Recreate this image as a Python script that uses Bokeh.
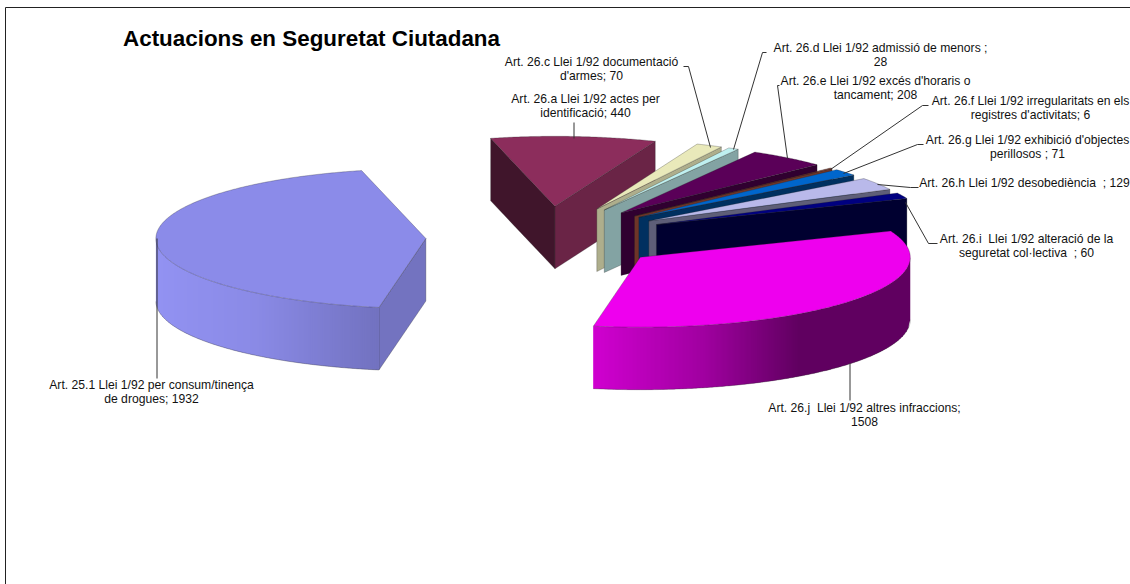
import math
from bokeh.plotting import figure
from bokeh.embed import file_html
from bokeh.resources import INLINE
from bokeh.core.properties import value

# --- data ---
values = [1932, 440, 70, 28, 208, 6, 71, 129, 60, 1508]
labels_line1 = ["Art. 25.1 Llei 1/92 per consum/tinença", "Art. 26.a Llei 1/92 actes per",
                "Art. 26.c Llei 1/92 documentació", "Art. 26.d Llei 1/92 admissió de menors ;",
                "Art. 26.e Llei 1/92 excés d'horaris o", "Art. 26.f Llei 1/92 irregularitats en els",
                "Art. 26.g Llei 1/92 exhibició d'objectes", "Art. 26.h Llei 1/92 desobediència\u00a0 ; 129",
                "Art. 26.i\u00a0 Llei 1/92 alteració de la", "Art. 26.j\u00a0 Llei 1/92 altres infraccions;"]
labels_line2 = ["de drogues; 1932", "identificació; 440", "d'armes; 70", "28", "tancament; 208",
                "registres d'activitats; 6", "perillosos ; 71", "", "seguretat col·lectiva\u00a0 ; 60", "1508"]
top_colors = ["#8b8be9", "#8c2d5c", "#e9e9ba", "#bff0f0", "#5a0058", "#8b3a2c", "#0066cc", "#b9b9ea", "#000080", "#ee00ee"]
wall_in = ["#7373c0", "#40152b", "#aeae8c", "#83a3a3", "#300030", "#6e3528", "#003060", "#5e5e78", "#000030", "#600060"]
wall_out = ["#7373c0", "#6a2446", "#aeae8c", "#83a3a3", "#300030", "#6e3528", "#003060", "#5e5e78", "#000030", "#600060"]
title = "Actuacions en Seguretat Ciutadana"

# --- layout ---
CX, CY, RX, RY, EXPLODE, H, START = 546, 237, 270, 70, 0.447, 62.5, 100.0
label_centers = [(151, 384), (585, 98), (591, 61), (880, 47), (875, 80), (1030, 100), (1027, 139), (1024, 182), (1026, 238), (864, 407)]
leaders = [[(156.5, 238), (156.5, 378)], [(573.5, 122), (573.5, 138)], [(683, 66), (688, 66), (710, 147)],
           [(766, 52), (762, 52), (733, 149)], [(779, 85), (777, 85), (787, 158)], [(928, 105), (922, 105), (830, 169)],
           [(923, 144), (917, 144), (843, 173)], [(918, 187), (910, 187), (877, 184)], [(937, 243), (928, 243), (905, 202)],
           [(849.5, 363), (849.5, 400)]]
gradients = {0: [(0, "#9292f2"), (0.45, "#8a8ae6"), (1, "#7272c0")], 9: [(0, "#d000d0"), (0.35, "#a000a0"), (0.65, "#600060"), (1, "#600060")]}

p = figure(width=1130, height=584, x_range=(0, 1130), y_range=(584, 0), output_backend="svg",
           toolbar_location=None, min_border=0, outline_line_color=None,
           x_axis_type=None, y_axis_type=None, background_fill_color="white", border_fill_color="white")
p.xgrid.visible = False
p.ygrid.visible = False

p.line([5, 5, 1130], [584, 7, 7], line_color="#222222", line_width=1)


def hex_mix(a, b, t):
    ca = [int(a[i:i + 2], 16) for i in (1, 3, 5)]
    cb = [int(b[i:i + 2], 16) for i in (1, 3, 5)]
    return "#%02x%02x%02x" % tuple(round(x + (y - x) * t) for x, y in zip(ca, cb))


def grad_color(stops, t):
    for (t0, c0), (t1, c1) in zip(stops, stops[1:]):
        if t <= t1:
            return hex_mix(c0, c1, (t - t0) / (t1 - t0))
    return stops[-1][1]


total = sum(values)
spans = []
a = START
for v in values:
    b = a + v / total * 360
    spans.append((a, b))
    a = b

order = list(range(1, len(values))) + [0]
for i in order:
    t0, t1 = spans[i]
    mid = math.radians((t0 + t1) / 2)
    ax = CX + EXPLODE * RX * math.cos(mid)
    ay = CY + EXPLODE * RY * math.sin(mid)
    pt = lambda d: (ax + RX * math.cos(math.radians(d)), ay + RY * math.sin(math.radians(d)))

    p0, p1 = pt(t0), pt(t1)
    if p0[0] < ax:
        p.patch([ax, p0[0], p0[0], ax], [ay, p0[1], p0[1] + H, ay + H], fill_color=wall_in[i],
                line_color="#222222", line_alpha=0.45, line_width=0.6)
    if p1[0] > ax:
        p.patch([ax, p1[0], p1[0], ax], [ay, p1[1], p1[1] + H, ay + H], fill_color=wall_out[i],
                line_color="#222222", line_alpha=0.45, line_width=0.6)

    n = int(max(1, (t1 - t0) * 2))
    ds = [t0 + (t1 - t0) * k / n for k in range(n + 1)]
    vis = [d for d in ds if math.sin(math.radians(d)) > -1e-9]
    if len(vis) > 1 and i in gradients:
        # curved front wall: overlapping vertical strips painted left to right
        xa, xb = min(pt(d)[0] for d in vis), max(pt(d)[0] for d in vis)
        upper = lambda x: ay + RY * math.sqrt(max(0.0, 1 - ((x - ax) / RX) ** 2))
        xs, ys, cs = [], [], []
        x0 = math.floor(xa)
        while x0 < xb:
            x1 = x0 + 2
            l, r = max(x0 - 1, xa), min(x1, xb)
            xs.append([l, r, r, l])
            ys.append([upper(l), upper(r), upper(r) + H, upper(l) + H])
            cs.append(grad_color(gradients[i], ((l + r) / 2 - xa) / (xb - xa)))
            x0 = x1
        p.patches(xs, ys, fill_color=cs, line_color=None)
        bottom = [pt(d) for d in vis]
        p.line([q[0] for q in bottom], [q[1] + H for q in bottom], line_color="#222222", line_alpha=0.5, line_width=0.6)

    arc = [pt(d) for d in ds]
    p.patch([ax] + [q[0] for q in arc], [ay] + [q[1] for q in arc], fill_color=top_colors[i],
            line_color="#222222", line_alpha=0.45, line_width=0.6)

for seg in leaders:
    p.line([q[0] for q in seg], [q[1] for q in seg], line_color="#333333", line_width=1)

for l1, l2, (lx, ly) in zip(labels_line1, labels_line2, label_centers):
    p.text([lx], [ly], text=[l1], text_font=value("Liberation Sans"), text_font_size="12.15px", text_color="#111111",
           text_align="center", text_baseline="middle")
    if l2:
        p.text([lx], [ly + 14], text=[l2], text_font=value("Liberation Sans"), text_font_size="12.15px", text_color="#111111",
               text_align="center", text_baseline="middle")

p.text([311], [38], text=[title], text_font=value("Liberation Sans"), text_font_size="22.4px", text_font_style="bold",
       text_color="#000000", text_align="center", text_baseline="middle")

open("out.html", "w").write(file_html(p, INLINE))
